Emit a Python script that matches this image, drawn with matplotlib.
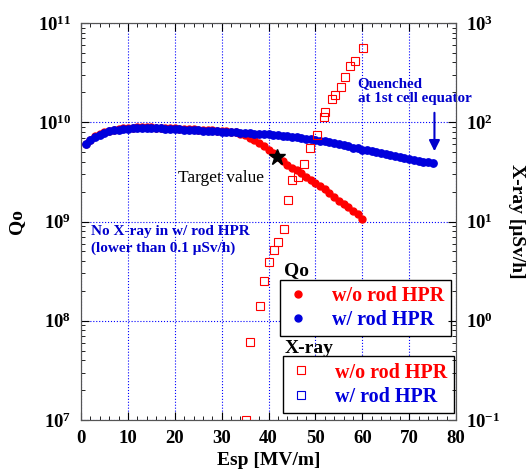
import numpy as np
import matplotlib
matplotlib.use('Agg')
import matplotlib.pyplot as plt
from matplotlib.lines import Line2D
from matplotlib.ticker import MultipleLocator

plt.rcParams['font.family'] = ['Liberation Serif', 'DejaVu Serif']
plt.rcParams['font.weight'] = 'bold'
plt.rcParams['mathtext.fontset'] = 'custom'
plt.rcParams['mathtext.rm'] = 'Liberation Serif:bold'
plt.rcParams['mathtext.bf'] = 'Liberation Serif:bold'
plt.rcParams['mathtext.it'] = 'Liberation Serif:bold:italic'
plt.rcParams['axes.unicode_minus'] = False

# Qo with rod HPR (x1e9), Esp = 1..75 MV/m
esp_w = np.arange(1, 76)
qo_w = np.array([6.0, 6.6, 7.1, 7.5, 7.8, 8.1, 8.3, 8.45, 8.55, 8.65,
                 8.7, 8.75, 8.75, 8.75, 8.75, 8.7, 8.7, 8.65, 8.6, 8.55,
                 8.5, 8.45, 8.4, 8.35, 8.3, 8.25, 8.2, 8.15, 8.1, 8.05,
                 8.0, 7.95, 7.9, 7.85, 7.8, 7.75, 7.7, 7.65, 7.6, 7.6,
                 7.5, 7.45, 7.35, 7.25, 7.15, 7.05, 6.95, 6.85, 6.75, 6.65,
                 6.5, 6.4, 6.3, 6.15, 6.0, 5.85, 5.7, 5.55, 5.45, 5.3,
                 5.2, 5.1, 5.0, 4.9, 4.8, 4.7, 4.6, 4.5, 4.4, 4.3,
                 4.2, 4.1, 4.0, 3.95, 3.85]) * 1e9

# Qo without rod HPR (x1e9), Esp = 1..60 MV/m
esp_wo = np.arange(1, 61)
qo_wo = np.array([6.1, 6.7, 7.2, 7.6, 7.9, 8.2, 8.4, 8.6, 8.7, 8.8,
                  8.85, 8.9, 8.9, 8.9, 8.9, 8.85, 8.85, 8.8, 8.75, 8.7,
                  8.65, 8.6, 8.55, 8.5, 8.45, 8.4, 8.35, 8.3, 8.2, 8.15,
                  8.1, 8.0, 7.9, 7.7, 7.4, 7.0, 6.6, 6.2, 5.8, 5.3,
                  4.9, 4.5, 4.1, 3.7, 3.45, 3.3, 3.05, 2.8, 2.6, 2.45,
                  2.3, 2.15, 1.95, 1.75, 1.6, 1.5, 1.4, 1.27, 1.18, 1.05]) * 1e9

# X-ray without rod HPR [uSv/h]
esp_x = [35.1, 36.1, 38.2, 39.1, 40.1, 41.2, 42.1, 43.2, 44.1, 45.1, 46.2,
         47.6, 48.9, 50.3, 51.8, 52.1, 53.5, 54.2, 55.4, 56.4, 57.4, 58.4, 60.2]
xray = [0.1, 0.61, 1.4, 2.5, 3.9, 5.2, 6.2, 8.5, 16.5, 26, 28,
        38, 55, 74, 112, 126, 172, 186, 224, 283, 371, 414, 563]

target = (41.9, 4.5e9)


def qpix(y):
    # pixel row (from top of figure) -> Qo value on the left axis
    return 10**(7 + (420 - y) / 99.25)


fig = plt.figure(figsize=(5.27, 4.76), dpi=100)
ax = fig.add_axes([0.1537, 0.1176, 0.7116, 0.8341])
ax2 = ax.twinx()

ax.plot(esp_wo, qo_wo, 'o', color='red', ms=5, mec='red', zorder=3)
ax.plot(esp_w, qo_w, 'o', color='#0000dd', ms=5.3, mec='#0000dd', zorder=4)
ax.plot(*target, '*', color='black', ms=12, zorder=5)
ax2.plot(esp_x, xray, 's', mfc='none', mec='red', ms=6, mew=0.8)

ax.set_yscale('log')
ax2.set_yscale('log')
ax.set_xlim(0, 80)
ax.set_ylim(1e7, 1e11)
ax2.set_ylim(0.1, 1000)
ax.xaxis.set_major_locator(MultipleLocator(10))
ax.xaxis.set_minor_locator(MultipleLocator(2))

ax.grid(which='major', color='blue', linestyle=':', linewidth=0.8)
ax.tick_params(which='both', direction='in', top=True, right=False, labelsize=13.5, pad=7)
ax.tick_params(which='major', length=6)
ax.tick_params(which='minor', length=3)
ax2.tick_params(which='both', direction='in', labelsize=13.5, pad=7)
ax2.tick_params(which='major', length=6)
ax2.tick_params(which='minor', length=3)
for a in (ax, ax2):
    for s in a.spines.values():
        s.set_color('#555555')

ax.set_xlabel('Esp [MV/m]', fontsize=14, fontweight='bold', labelpad=4)
ax.set_ylabel('Qo', fontsize=14, fontweight='bold', labelpad=9)
ax2.set_ylabel('X-ray [\u03bcSv/h]', fontsize=14, fontweight='bold', rotation=270, labelpad=18)

ax.text(29.9, qpix(178), 'Target value', fontsize=12.5,
        fontweight='normal', ha='center', va='center', color='black')
ax.text(59.0, qpix(91), 'Quenched\nat 1st cell equator',
        fontsize=10.8, color='#0000cc', ha='left', va='center', linespacing=1.25)
ax.annotate('', xy=(75.4, qpix(154)), xytext=(75.4, qpix(110)),
            arrowprops=dict(arrowstyle='-|>', color='#0000cc', lw=1.5, mutation_scale=16))
ax.text(2.2, qpix(240), 'No X-ray in w/ rod HPR\n(lower than 0.1 \u03bcSv/h)',
        fontsize=11, color='#0000cc', ha='left', va='center', linespacing=1.3)

ax.text(43.2, qpix(271), 'Qo', fontsize=14, ha='left', va='center')
ax.text(43.5, qpix(348), 'X-ray', fontsize=14, ha='left', va='center')

h1 = [Line2D([], [], marker='o', ls='none', color='red', ms=5),
      Line2D([], [], marker='o', ls='none', color='#0000dd', ms=5)]
leg1 = ax.legend(h1, ['w/o rod HPR', 'w/ rod HPR'], loc='upper left',
                 bbox_to_anchor=(0.531, 0.352), fontsize=14.5, frameon=True, fancybox=False,
                 edgecolor='black', framealpha=1, handlelength=1.2, handletextpad=1.1,
                 borderpad=0.3, labelspacing=0.2, borderaxespad=0)
leg1.get_frame().set_linewidth(1.0)
for t, c in zip(leg1.get_texts(), ['red', '#0000dd']):
    t.set_color(c)
ax.add_artist(leg1)

h2 = [Line2D([], [], marker='s', ls='none', mfc='none', mec='red', ms=6, mew=0.8),
      Line2D([], [], marker='s', ls='none', mfc='none', mec='#0000dd', ms=6, mew=0.8)]
leg2 = ax.legend(h2, ['w/o rod HPR', 'w/ rod HPR'], loc='upper left',
                 bbox_to_anchor=(0.539, 0.160), fontsize=14.5, frameon=True, fancybox=False,
                 edgecolor='black', framealpha=1, handlelength=1.2, handletextpad=1.1,
                 borderpad=0.3, labelspacing=0.2, borderaxespad=0)
leg2.get_frame().set_linewidth(1.0)
for t, c in zip(leg2.get_texts(), ['red', '#0000dd']):
    t.set_color(c)

fig.savefig('out.png', dpi=100)
